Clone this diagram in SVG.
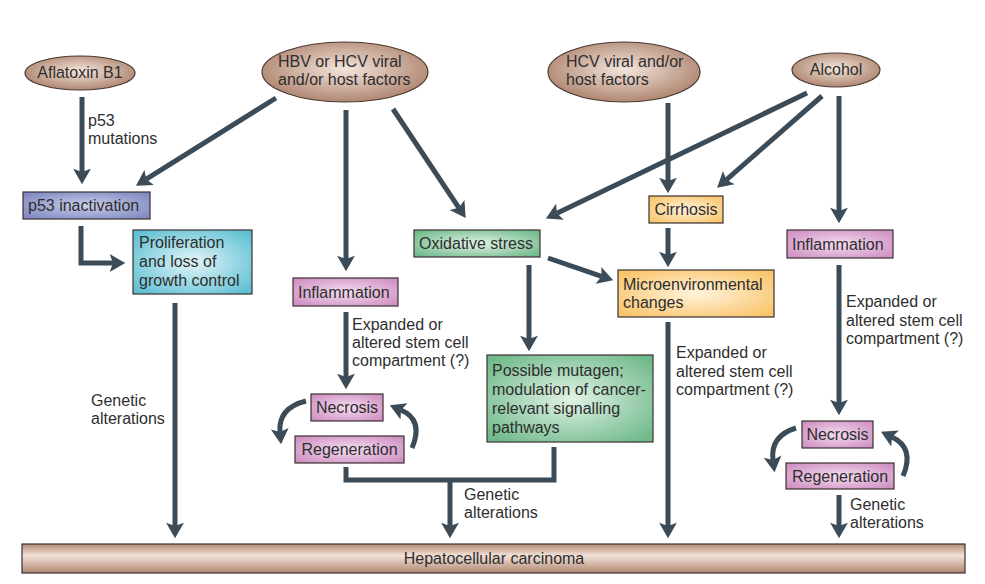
<svg xmlns="http://www.w3.org/2000/svg" width="985" height="584" viewBox="0 0 985 584">
<defs>
<style>
text{font-family:"Liberation Sans",Arial,sans-serif;font-size:16px;fill:#2e2e2e}
.c{text-anchor:middle}
.e{stroke:#4a3a34;stroke-width:1.2}
.b{stroke:#3a3030;stroke-width:1.2}
.a{fill:none;stroke:#3b4b57;stroke-width:5;marker-end:url(#ah)}
.l{fill:none;stroke:#3b4b57;stroke-width:5}
</style>
<marker id="ah" markerUnits="userSpaceOnUse" markerWidth="20" markerHeight="20" viewBox="-1 -9 17 18" refX="3" refY="0" orient="auto">
<path d="M0,-8 L14,0 L0,8 L3,0 z" fill="#3b4b57"/>
</marker>
<radialGradient id="gE" cx="0.5" cy="0.45" r="0.6"><stop offset="0" stop-color="#f4e6dc"/><stop offset="1" stop-color="#a97e68"/></radialGradient>
<radialGradient id="gB" cx="0.5" cy="0.5" r="0.65"><stop offset="0" stop-color="#c8cdea"/><stop offset="1" stop-color="#7f88c0"/></radialGradient>
<radialGradient id="gC" cx="0.5" cy="0.5" r="0.65"><stop offset="0" stop-color="#e4f5f8"/><stop offset="1" stop-color="#5dbfd3"/></radialGradient>
<radialGradient id="gP" cx="0.5" cy="0.5" r="0.65"><stop offset="0" stop-color="#f3dcef"/><stop offset="1" stop-color="#cf8fc2"/></radialGradient>
<radialGradient id="gG" cx="0.5" cy="0.5" r="0.65"><stop offset="0" stop-color="#e2f3e6"/><stop offset="1" stop-color="#6fb98a"/></radialGradient>
<radialGradient id="gY" cx="0.5" cy="0.5" r="0.65"><stop offset="0" stop-color="#fff3dc"/><stop offset="1" stop-color="#f9c468"/></radialGradient>
<linearGradient id="gH" x1="0" y1="0" x2="0" y2="1"><stop offset="0" stop-color="#b48a74"/><stop offset="0.4" stop-color="#f2e2d8"/><stop offset="1" stop-color="#b08670"/></linearGradient>
</defs>
<rect width="985" height="584" fill="#ffffff"/>

<g id="connectors">
<line class="a" x1="82" y1="97" x2="82" y2="172"/>
<line class="a" x1="276" y1="98" x2="146.3" y2="179.2"/>
<line class="a" x1="346" y1="110" x2="346" y2="259"/>
<line class="a" x1="393" y1="109" x2="458.9" y2="207.8"/>
<path class="a" d="M81,226 V263 H113" stroke-linejoin="miter"/>
<line class="a" x1="175" y1="303" x2="175" y2="526"/>
<line class="a" x1="346" y1="312" x2="346" y2="377"/>
<path class="l" d="M346,467 V480 H554 V447"/>
<line class="a" x1="450" y1="480" x2="450" y2="526"/>
<line class="a" x1="668" y1="103" x2="668" y2="181"/>
<line class="a" x1="807" y1="93" x2="556.9" y2="213.2"/>
<line class="a" x1="822" y1="96" x2="726.3" y2="179.8"/>
<line class="a" x1="839" y1="96" x2="839" y2="211"/>
<line class="a" x1="668" y1="228" x2="668" y2="255"/>
<line class="a" x1="548" y1="258" x2="601.6" y2="276.4"/>
<line class="a" x1="529" y1="265" x2="529" y2="339"/>
<line class="a" x1="668" y1="322" x2="668" y2="526"/>
<line class="a" x1="839" y1="265" x2="839" y2="403"/>
<line class="a" x1="839" y1="495" x2="839" y2="526"/>
<path class="a" d="M306,401 Q278,408 280,432"/>
<path class="a" d="M412,448 Q424,420 401,410"/>
<path class="a" d="M796,428 Q770,436 773,460"/>
<path class="a" d="M903,476 Q915,448 892,437"/>
</g>

<g id="aflatoxin"><ellipse class="e" cx="80" cy="73" rx="55" ry="17" fill="url(#gE)"/><text class="c" x="80" y="78">Aflatoxin B1</text></g>
<g id="hbv"><ellipse class="e" cx="345" cy="72" rx="83" ry="30" fill="url(#gE)"/><text x="278" y="67">HBV or HCV viral</text><text x="278" y="85">and/or host factors</text></g>
<g id="hcv"><ellipse class="e" cx="624" cy="72" rx="76" ry="30" fill="url(#gE)"/><text x="566" y="67">HCV viral and/or</text><text x="566" y="85">host factors</text></g>
<g id="alcohol"><ellipse class="e" cx="836" cy="70" rx="44" ry="17" fill="url(#gE)"/><text class="c" x="836" y="75">Alcohol</text></g>

<g id="p53mut-label"><text x="88" y="126">p53</text><text x="88" y="144">mutations</text></g>
<g id="p53"><rect class="b" x="23" y="192" width="127" height="27" fill="url(#gB)"/><text x="28" y="211">p53 inactivation</text></g>
<g id="prolif"><rect class="b" x="133" y="230" width="119" height="64" fill="url(#gC)"/><text x="139" y="248">Proliferation</text><text x="139" y="267">and loss of</text><text x="139" y="286">growth control</text></g>
<g id="infl-left"><rect class="b" x="293" y="278" width="105" height="28" fill="url(#gP)"/><text x="298" y="298">Inflammation</text></g>
<g id="exp-left"><text x="352" y="330">Expanded or</text><text x="352" y="348">altered stem cell</text><text x="352" y="366">compartment (?)</text></g>
<g id="necrosis-left"><rect class="b" x="311" y="394" width="72" height="27" fill="url(#gP)"/><text class="c" x="347" y="413">Necrosis</text></g>
<g id="regen-left"><rect class="b" x="295" y="436" width="109" height="27" fill="url(#gP)"/><text class="c" x="349.5" y="455">Regeneration</text></g>
<g id="gen-left"><text x="91" y="406">Genetic</text><text x="91" y="424">alterations</text></g>
<g id="gen-mid"><text x="464" y="500">Genetic</text><text x="464" y="518">alterations</text></g>

<g id="oxidative"><rect class="b" x="414" y="230" width="126" height="27" fill="url(#gG)"/><text class="c" x="476" y="249">Oxidative stress</text></g>
<g id="mutagen"><rect class="b" x="487" y="355" width="166" height="87" fill="url(#gG)"/><text x="492" y="376">Possible mutagen;</text><text x="492" y="395">modulation of cancer-</text><text x="492" y="414">relevant signalling</text><text x="492" y="433">pathways</text></g>
<g id="cirrhosis"><rect class="b" x="649" y="196" width="74" height="27" fill="url(#gY)"/><text class="c" x="686" y="215">Cirrhosis</text></g>
<g id="micro"><rect class="b" x="618" y="270" width="156" height="47" fill="url(#gY)"/><text x="623" y="290">Microenvironmental</text><text x="623" y="308">changes</text></g>
<g id="exp-mid"><text x="676" y="358">Expanded or</text><text x="676" y="377">altered stem cell</text><text x="676" y="395">compartment (?)</text></g>

<g id="infl-right"><rect class="b" x="787" y="230" width="106" height="28" fill="url(#gP)"/><text x="792" y="250">Inflammation</text></g>
<g id="exp-right"><text x="846" y="307">Expanded or</text><text x="846" y="326">altered stem cell</text><text x="846" y="344">compartment (?)</text></g>
<g id="necrosis-right"><rect class="b" x="802" y="421" width="71" height="27" fill="url(#gP)"/><text class="c" x="837.5" y="440">Necrosis</text></g>
<g id="regen-right"><rect class="b" x="786" y="463" width="108" height="26" fill="url(#gP)"/><text class="c" x="840" y="482">Regeneration</text></g>
<g id="gen-right"><text x="850" y="510">Genetic</text><text x="850" y="528">alterations</text></g>

<g id="hcc"><rect class="b" x="22" y="544" width="943" height="29" fill="url(#gH)"/><text class="c" x="494" y="564">Hepatocellular carcinoma</text></g>
</svg>
